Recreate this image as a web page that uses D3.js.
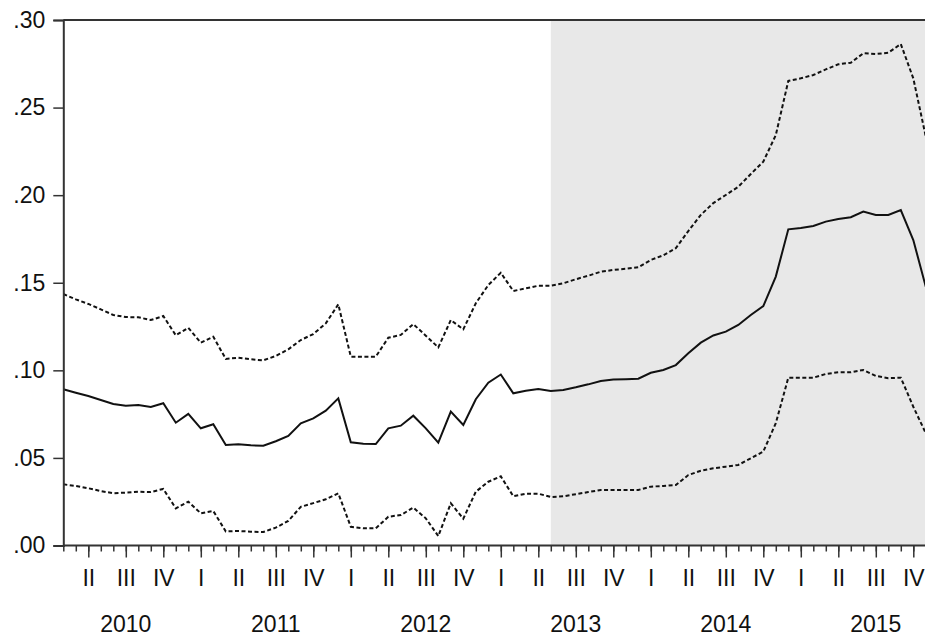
<!DOCTYPE html>
<html>
<head>
<meta charset="utf-8">
<script src="https://cdn.jsdelivr.net/npm/d3@7"></script>
<style>
  html, body { margin: 0; padding: 0; background: #fff; }
  svg { display: block; }
  text { font-family: "Liberation Sans", Arial, sans-serif; fill: #111; }
</style>
</head>
<body>
<svg id="chart" width="925" height="637"></svg>
<script>
// ---- data (monthly, Feb 2010 .. Nov 2015) ----
const startYear = 2010;
const startMonth = 2; // February
const upperBand = [0.1436,0.1405,0.1379,0.1348,0.1316,0.1304,0.1303,0.1287,0.1310,0.1200,
  0.1243,0.1158,0.1192,0.1065,0.1072,0.1063,0.1057,0.1082,0.1120,0.1173,
  0.1207,0.1268,0.1377,0.1078,0.1078,0.1078,0.1186,0.1202,0.1264,0.1198,
  0.1131,0.1287,0.1234,0.1383,0.1487,0.1557,0.1453,0.1468,0.1483,0.1483,
  0.1497,0.1520,0.1540,0.1563,0.1573,0.1580,0.1588,0.1630,0.1657,0.1697,
  0.1795,0.1887,0.1955,0.2001,0.2048,0.2121,0.2191,0.2343,0.2652,0.2667,
  0.2686,0.2718,0.2747,0.2756,0.2810,0.2806,0.2813,0.2863,0.2667,0.2334];
const midLine = [0.0892,0.0872,0.0853,0.0831,0.0808,0.0798,0.0802,0.0791,0.0812,0.0701,
  0.0751,0.0669,0.0692,0.0574,0.0578,0.0572,0.0570,0.0595,0.0625,0.0698,
  0.0726,0.0770,0.0840,0.0589,0.0581,0.0579,0.0669,0.0684,0.0741,0.0669,
  0.0587,0.0764,0.0688,0.0835,0.0929,0.0976,0.0869,0.0884,0.0893,0.0882,
  0.0888,0.0903,0.0920,0.0939,0.0947,0.0949,0.0952,0.0986,0.1002,0.1030,
  0.1097,0.1158,0.1199,0.1221,0.1259,0.1316,0.1367,0.1535,0.1805,0.1813,
  0.1824,0.1849,0.1864,0.1874,0.1906,0.1887,0.1887,0.1915,0.1744,0.1477];
const lowerBand = [0.0349,0.0340,0.0327,0.0311,0.0298,0.0302,0.0307,0.0305,0.0323,0.0212,
  0.0250,0.0184,0.0197,0.0080,0.0083,0.0079,0.0077,0.0102,0.0140,0.0221,
  0.0242,0.0264,0.0298,0.0107,0.0098,0.0098,0.0164,0.0174,0.0216,0.0155,
  0.0054,0.0241,0.0153,0.0307,0.0364,0.0395,0.0281,0.0296,0.0296,0.0277,
  0.0281,0.0293,0.0305,0.0317,0.0317,0.0317,0.0317,0.0336,0.0340,0.0345,
  0.0402,0.0427,0.0441,0.0450,0.0460,0.0498,0.0536,0.0698,0.0958,0.0958,
  0.0958,0.0979,0.0989,0.0989,0.1002,0.0968,0.0955,0.0958,0.0792,0.0641];
const yTicks = [0, 0.05, 0.10, 0.15, 0.20, 0.25, 0.30];
const quarterNames = ["I", "II", "III", "IV"];
const yearLabels = ["2010", "2011", "2012", "2013", "2014", "2015"];
const shadeStartYear = 2013, shadeStartMonth = 5; // May 2013

// ---- layout ----
const svg = d3.select("#chart");
const mLeft = 63.3, mTop = 20, mBottom = 545.5, mRight = 925.8;
const fontSize = 23;
const n = midLine.length;
const monthIndex = (yr, m) => (yr - startYear) * 12 + (m - startMonth);

const x = d3.scaleLinear().domain([0, n - 1]).range([mLeft, mRight]);
const y = d3.scaleLinear().domain([0, 0.30]).range([mBottom, mTop]);

// shaded forecast region
const shadeX = x(monthIndex(shadeStartYear, shadeStartMonth));
svg.append("rect")
  .attr("x", shadeX)
  .attr("y", y(0.30))
  .attr("width", x(n - 1) - shadeX + 5)
  .attr("height", y(0) - y(0.30))
  .attr("fill", "#e8e8e8");

const line = d3.line().x((d, i) => x(i)).y(d => y(d));
const g = svg.append("g");
g.append("path").datum(upperBand).attr("d", line)
  .attr("fill", "none").attr("stroke", "#111").attr("stroke-width", 2)
  .attr("stroke-dasharray", "4,2.5");
g.append("path").datum(lowerBand).attr("d", line)
  .attr("fill", "none").attr("stroke", "#111").attr("stroke-width", 2)
  .attr("stroke-dasharray", "4,2.5");
g.append("path").datum(midLine).attr("d", line)
  .attr("fill", "none").attr("stroke", "#111").attr("stroke-width", 2);

// top frame line
svg.append("line")
  .attr("x1", mLeft).attr("x2", 930).attr("y1", y(0.30)).attr("y2", y(0.30))
  .attr("stroke", "#333").attr("stroke-width", 2);

// y axis
const yAxis = svg.append("g").attr("transform", `translate(${mLeft},0)`)
  .call(d3.axisLeft(y).tickValues(yTicks).tickSize(10).tickPadding(8)
    .tickFormat(d => d3.format(".2f")(d).replace(/^0/, "")));
yAxis.select(".domain").attr("stroke", "#333").attr("stroke-width", 2);
yAxis.selectAll(".tick line").attr("stroke", "#333").attr("stroke-width", 1.5);
yAxis.selectAll("text").attr("font-size", fontSize).attr("fill", "#111")
  .attr("font-family", "Liberation Sans, Arial, sans-serif");

// x axis: minor monthly ticks
const months = d3.range(0, n);
const xMinor = svg.append("g").attr("transform", `translate(0,${mBottom})`)
  .call(d3.axisBottom(x).tickValues(months).tickSize(6).tickFormat(""));
xMinor.select(".domain").remove();
xMinor.selectAll(".tick line").attr("stroke", "#333").attr("stroke-width", 1.5);

// x axis: quarter ticks with roman labels
const quarterIdx = months.filter(i => ((i + startMonth - 1) % 3) === 0);
const xMajor = svg.append("g").attr("transform", `translate(0,${mBottom})`)
  .call(d3.axisBottom(x).tickValues(quarterIdx).tickSize(12).tickPadding(12)
    .tickFormat(i => quarterNames[Math.floor(((i + startMonth - 1) % 12) / 3)]));
xMajor.select(".domain").remove();
xMajor.selectAll(".tick line").attr("stroke", "#333").attr("stroke-width", 1.5);
xMajor.selectAll("text").attr("font-size", fontSize).attr("fill", "#111")
  .attr("font-family", "Liberation Sans, Arial, sans-serif");

// bottom axis line
svg.append("line")
  .attr("x1", mLeft).attr("x2", 930).attr("y1", mBottom).attr("y2", mBottom)
  .attr("stroke", "#333").attr("stroke-width", 2);

// year labels centred on each year
svg.append("g").selectAll("text").data(yearLabels).join("text")
  .attr("x", d => x(monthIndex(+d, 1) + 6))
  .attr("y", 632)
  .attr("text-anchor", "middle")
  .attr("font-size", fontSize)
  .text(d => d);
</script>
</body>
</html>
